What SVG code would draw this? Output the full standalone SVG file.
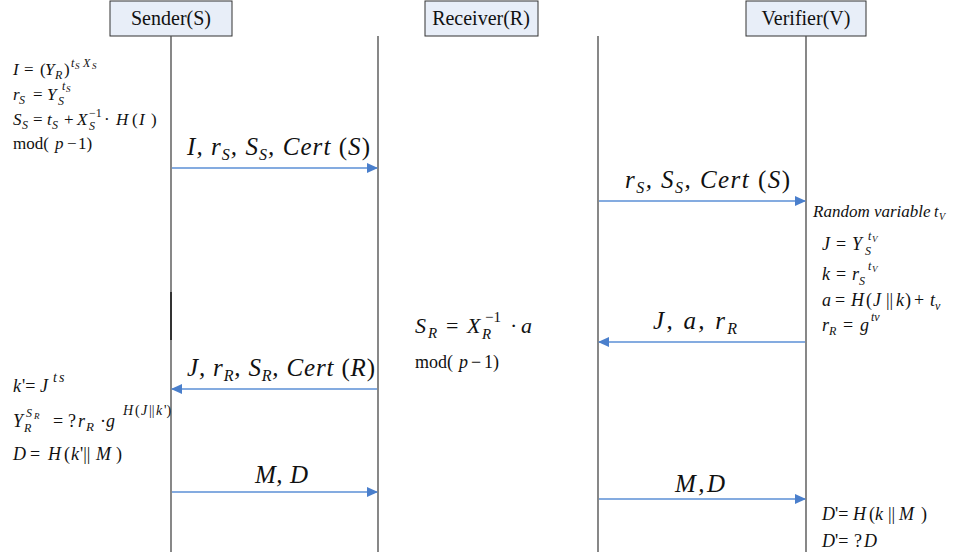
<svg xmlns="http://www.w3.org/2000/svg" width="965" height="557" viewBox="0 0 965 557" font-family="'Liberation Serif','Times New Roman',serif">
<style>
text{font-family:"Liberation Serif","Times New Roman",serif;fill:#111}
.i{font-style:italic}
.n{font-style:normal}
.box{fill:#E8EEF8;stroke:#333;stroke-width:1}
.hdr{font-size:20px;text-anchor:middle}
.life{stroke:#555;stroke-width:1.4;fill:none}
.msg{stroke:#5B8FD6;stroke-width:1.5;fill:none;marker-end:url(#ah)}
.f17{font-size:17px}
.f18{font-size:18px}
.lab{font-size:25px;font-style:italic}
.s{font-size:12px}
.ss{font-size:9px}
.ls{font-size:16px}
</style>
<defs>
<marker id="ah" markerWidth="11" markerHeight="10" refX="10" refY="5" orient="auto" markerUnits="userSpaceOnUse">
<path d="M0,0 L11,5 L0,10 Z" fill="#4A7FCC"/>
</marker>
</defs>

<g id="sender">
<rect class="box" x="110" y="1" width="122" height="35"/>
<text class="hdr" x="171" y="25">Sender(S)</text>
</g>
<g id="receiver">
<rect class="box" x="425" y="1" width="113" height="35"/>
<text class="hdr" x="481" y="25">Receiver(R)</text>
</g>
<g id="verifier">
<rect class="box" x="746" y="1" width="120" height="35"/>
<text class="hdr" x="806" y="25">Verifier(V)</text>
</g>

<g id="lifelines">
<line class="life" x1="171" y1="36" x2="171" y2="552"/>
<line x1="171" y1="292" x2="171" y2="340" stroke="#333" stroke-width="2"/>
<line class="life" x1="378" y1="36" x2="378" y2="552"/>
<line class="life" x1="598" y1="36" x2="598" y2="552"/>
<line class="life" x1="806" y1="36" x2="806" y2="552"/>
</g>

<g id="connectors">
<line class="msg" x1="172" y1="168" x2="377" y2="168"/>
<line class="msg" x1="599" y1="201" x2="805" y2="201"/>
<line class="msg" x1="805" y1="342" x2="599" y2="342"/>
<line class="msg" x1="377" y1="389" x2="172" y2="389"/>
<line class="msg" x1="172" y1="492" x2="377" y2="492"/>
<line class="msg" x1="599" y1="499" x2="805" y2="499"/>
</g>

<g id="labels">
<text class="lab" x="187" y="155" textLength="183" lengthAdjust="spacing">I, r<tspan class="ls" dy="5">S</tspan><tspan dy="-5">, S</tspan><tspan class="ls" dy="5">S</tspan><tspan dy="-5">, Cert</tspan><tspan class="n"> (</tspan>S<tspan class="n">)</tspan></text>
<text class="lab" x="625" y="188" textLength="165" lengthAdjust="spacing">r<tspan class="ls" dy="5">S</tspan><tspan dy="-5">, S</tspan><tspan class="ls" dy="5">S</tspan><tspan dy="-5">, Cert</tspan><tspan class="n"> (</tspan>S<tspan class="n">)</tspan></text>
<text class="lab" x="653" y="329" textLength="84" lengthAdjust="spacing">J, a, r<tspan class="ls" dy="5">R</tspan></text>
<text class="lab" x="187" y="376" textLength="188" lengthAdjust="spacing">J, r<tspan class="ls" dy="5">R</tspan><tspan dy="-5">, S</tspan><tspan class="ls" dy="5">R</tspan><tspan dy="-5">, Cert</tspan><tspan class="n"> (</tspan>R<tspan class="n">)</tspan></text>
<text class="lab" x="255" y="483" textLength="53" lengthAdjust="spacing">M, D</text>
<text class="lab" x="675" y="492" textLength="50" lengthAdjust="spacing">M,D</text>
</g>

<g id="sender-calc">
<text class="f17"><tspan class="i" x="13" y="75">I</tspan><tspan x="24" y="75">=</tspan><tspan x="40" y="75">(</tspan><tspan class="i" x="45" y="75">Y</tspan><tspan class="i s" x="55" y="79">R</tspan><tspan x="64" y="75">)</tspan><tspan class="i s" x="71" y="67">t</tspan><tspan class="i ss" x="75" y="69">S</tspan><tspan class="i s" x="83" y="67">X</tspan><tspan class="i ss" x="92" y="69">S</tspan></text>
<text class="f17"><tspan class="i" x="13" y="100">r</tspan><tspan class="i s" x="19" y="104">S</tspan><tspan x="33" y="100">=</tspan><tspan class="i" x="47" y="100">Y</tspan><tspan class="i s" x="58" y="105">S</tspan><tspan class="i s" x="62" y="90">t</tspan><tspan class="i ss" x="66" y="92">S</tspan></text>
<text class="f17"><tspan class="i" x="13" y="125">S</tspan><tspan class="i s" x="22" y="129">S</tspan><tspan x="33" y="125">=</tspan><tspan class="i" x="47" y="125">t</tspan><tspan class="i s" x="52" y="129">S</tspan><tspan x="64" y="125">+</tspan><tspan class="i" x="77" y="125">X</tspan><tspan class="i s" x="89" y="130">S</tspan><tspan class="s" x="89" y="117">−1</tspan><tspan x="104" y="125">·</tspan><tspan class="i" x="116" y="125">H</tspan><tspan x="132" y="125">(</tspan><tspan class="i" x="139" y="125">I</tspan><tspan x="151" y="125">)</tspan></text>
<text class="f17"><tspan x="13" y="149">mod(</tspan><tspan class="i" x="55" y="149">p</tspan><tspan x="67" y="149">−</tspan><tspan x="78" y="149">1)</tspan></text>
</g>

<g id="verifier-calc">
<text class="i" font-size="17"><tspan x="813" y="217">Random variable</tspan><tspan font-size="16" x="934" y="217">t</tspan><tspan font-size="10" x="939" y="220">V</tspan></text>
<text class="f18"><tspan class="i" x="822" y="250">J</tspan><tspan x="836" y="250">=</tspan><tspan class="i" x="852" y="250">Y</tspan><tspan class="i s" x="865" y="255">S</tspan><tspan class="i s" x="868" y="240">t</tspan><tspan class="i ss" x="872" y="242">V</tspan></text>
<text class="f18"><tspan class="i" x="822" y="280">k</tspan><tspan x="836" y="280">=</tspan><tspan class="i" x="852" y="280">r</tspan><tspan class="i s" x="859" y="285">S</tspan><tspan class="i s" x="868" y="270">t</tspan><tspan class="i ss" x="872" y="272">V</tspan></text>
<text class="f18"><tspan class="i" x="822" y="306">a</tspan><tspan x="835" y="306">=</tspan><tspan class="i" x="851" y="306">H</tspan><tspan x="866" y="306">(</tspan><tspan class="i" x="873" y="306">J</tspan><tspan x="886" y="306">||</tspan><tspan class="i" x="896" y="306">k</tspan><tspan x="905" y="306">)</tspan><tspan x="914" y="306">+</tspan><tspan class="i" x="930" y="306">t</tspan><tspan class="i s" x="935" y="310">v</tspan></text>
<text class="f18"><tspan class="i" x="822" y="331">r</tspan><tspan class="i s" x="829" y="335">R</tspan><tspan x="843" y="331">=</tspan><tspan class="i" x="860" y="331">g</tspan><tspan class="i s" x="871" y="321">tv</tspan></text>
</g>

<g id="receiver-calc">
<text font-size="22"><tspan class="i" x="415" y="333">S</tspan><tspan class="i" font-size="15" x="428" y="338">R</tspan><tspan x="446" y="333">=</tspan><tspan class="i" x="467" y="333">X</tspan><tspan class="i" font-size="15" x="482" y="339">R</tspan><tspan font-size="15" x="485" y="322">−1</tspan><tspan x="510" y="333">·</tspan><tspan class="i" x="521" y="333">a</tspan></text>
<text font-size="18"><tspan x="415" y="368">mod(</tspan><tspan class="i" x="459" y="368">p</tspan><tspan x="471" y="368">−</tspan><tspan x="484" y="368">1)</tspan></text>
</g>

<g id="sender-verify">
<text class="f18"><tspan class="i" x="13" y="392">k</tspan><tspan x="22" y="392">'=</tspan><tspan class="i" x="40" y="392">J</tspan><tspan class="i" font-size="14" x="53" y="382" letter-spacing="2">ts</tspan></text>
<text class="f18"><tspan class="i" x="13" y="427">Y</tspan><tspan class="i s" x="24" y="432">R</tspan><tspan class="i s" x="26" y="417">S</tspan><tspan class="i ss" x="34" y="419">R</tspan><tspan x="53" y="427">=</tspan><tspan x="68" y="427">?</tspan><tspan class="i" x="78" y="427">r</tspan><tspan class="i" font-size="13" x="86" y="431">R</tspan><tspan x="100" y="427">·</tspan><tspan class="i" x="106" y="427">g</tspan><tspan class="i" font-size="14" x="123" y="415">H</tspan><tspan font-size="14" x="135" y="415">(</tspan><tspan class="i" font-size="14" x="141" y="415">J</tspan><tspan font-size="14" x="149" y="415">||</tspan><tspan class="i" font-size="14" x="156" y="415">k</tspan><tspan font-size="14" x="164" y="415">')</tspan></text>
<text class="f18"><tspan class="i" x="13" y="460">D</tspan><tspan x="30" y="460">=</tspan><tspan class="i" x="48" y="460">H</tspan><tspan x="64" y="460">(</tspan><tspan class="i" x="71" y="460">k</tspan><tspan x="80" y="460">'||</tspan><tspan class="i" x="96" y="460">M</tspan><tspan x="116" y="460">)</tspan></text>
</g>

<g id="verifier-verify">
<text class="f18"><tspan class="i" x="822" y="520">D</tspan><tspan x="835" y="520">'=</tspan><tspan class="i" x="853" y="520">H</tspan><tspan x="869" y="520">(</tspan><tspan class="i" x="875" y="520">k</tspan><tspan x="888" y="520">||</tspan><tspan class="i" x="899" y="520">M</tspan><tspan x="921" y="520">)</tspan></text>
<text class="f18"><tspan class="i" x="822" y="547">D</tspan><tspan x="835" y="547">'=</tspan><tspan x="854" y="547">?</tspan><tspan class="i" x="864" y="547">D</tspan></text>
</g>
</svg>
